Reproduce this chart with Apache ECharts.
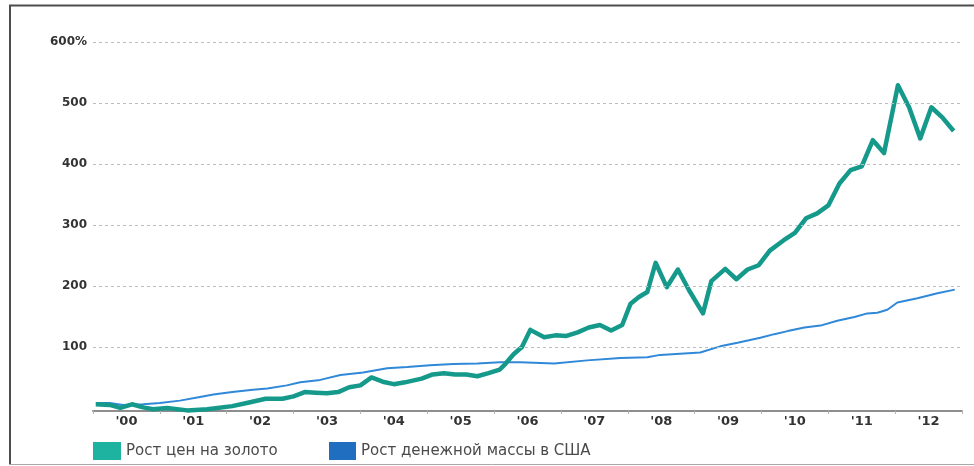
<!DOCTYPE html>
<html>
<head>
<meta charset="utf-8">
<script src="https://cdn.jsdelivr.net/npm/echarts@6/dist/echarts.min.js"></script>
<style>
  html, body { margin: 0; padding: 0; background: #fff; }
  #chart { width: 974px; height: 466px; }
</style>
</head>
<body>
<div id="chart"></div>
<script>
// Year labels shown under the axis (one band per year, 2000–2012)
const yearLabels = ["'00", "'01", "'02", "'03", "'04", "'05", "'06", "'07", "'08", "'09", "'10", "'11", "'12"];

// Horizontal reference levels, %
const gridLevels = [100, 200, 300, 400, 500, 600];

const seriesNames = ['Рост цен на золото', 'Рост денежной массы в США'];

// Gold price growth, %: position in months since January 2000 and value
const goldMonths = [0.5, 3, 4.9, 7, 9, 10.8, 13.3, 16.9, 20.5, 25, 28, 31, 34, 36, 38, 40, 42, 44, 46, 48,
  50, 52, 54, 56, 59, 61, 63, 65, 67, 69, 71, 73, 74, 75.5, 77, 78.5, 81, 83, 85, 87,
  89, 91, 93, 95, 96.5, 98, 99.5, 101, 103, 105, 107, 109.5, 111, 113.5, 115.5, 117.5, 119.5, 121.5, 124, 126,
  128, 130, 132, 134, 136, 138, 140, 142, 144.5, 146.5, 148.5, 150.5, 152.5, 154.5];
const goldGrowth = [6, 5, 0, 6, 1, -2, 0, -4, -2, 3, 9, 15, 15, 19, 26, 25, 24, 26, 34, 37,
  50, 43, 39, 42, 48, 55, 57, 55, 55, 52, 57, 63, 72, 88, 100, 128, 116, 119, 118, 124,
  132, 136, 127, 136, 171, 182, 190, 238, 198, 227, 193, 155, 208, 228, 211, 227, 234, 258, 275, 287,
  311, 319, 332, 368, 390, 396, 439, 418, 529, 493, 442, 493, 476, 454];

// US money supply growth, %: position in months since January 2000 and value
const moneyMonths = [0.5, 3, 5.4, 9, 12, 15.6, 19.2, 21.6, 25, 28.7, 31.3, 34.8, 37.2, 40.8, 44.4, 48.5,
  52.8, 56.4, 60.5, 64.7, 69, 73, 76.7, 82.8, 88.7, 94.7, 99.5, 101.8, 109, 112.6, 115.7,
  119.8, 122.3, 124.7, 127.7, 130.6, 133.6, 136.7, 139, 140.8, 142.6, 144.4, 148, 151.6, 154.7];
const moneyGrowth = [8, 8, 5, 6, 8, 12, 18, 22, 26, 30, 32, 37, 42, 46, 54, 58,
  65, 67, 70, 72, 73, 75, 75, 73, 78, 82, 83, 87, 91, 101, 107,
  115, 121, 126, 132, 135, 143, 149, 155, 156, 161, 173, 180, 188, 194];

const FONT = '"DejaVu Sans", Verdana, sans-serif';

const chart = echarts.init(document.getElementById('chart'), null, { renderer: 'canvas' });

const legendText = { color: '#4a4a4a', fontSize: 15, fontFamily: FONT };

chart.setOption({
  animation: false,
  backgroundColor: '#ffffff',
  grid: { left: 93, right: 12, top: 42, bottom: 55 },
  xAxis: [
    { type: 'value', min: 0, max: 156, show: false },
    {
      type: 'category',
      data: yearLabels,
      position: 'bottom',
      boundaryGap: true,
      axisLine: { lineStyle: { color: '#8e8e8e', width: 2 } },
      axisTick: { show: true, length: 3, lineStyle: { color: '#b5b5b5', width: 1 } },
      axisLabel: { color: '#333', fontWeight: 'bold', fontSize: 13, fontFamily: FONT, margin: 4 },
      splitLine: { show: false }
    }
  ],
  yAxis: {
    type: 'value',
    min: -5,
    max: 600,
    axisLine: { show: false },
    axisTick: { show: false },
    splitLine: { show: false },
    axisLabel: {
      formatter: v => (v <= 0 ? '' : (v === 600 ? '600%' : String(v))),
      color: '#333',
      fontWeight: 'bold',
      fontSize: 12,
      fontFamily: FONT,
      margin: 6
    }
  },
  legend: [
    {
      data: [seriesNames[0]], left: 93, top: 442, padding: 0, icon: 'rect', itemWidth: 28, itemHeight: 18,
      itemGap: 0, textStyle: legendText, selectedMode: false
    },
    {
      data: [seriesNames[1]], left: 329, top: 442, padding: 0, icon: 'rect', itemWidth: 27, itemHeight: 18,
      itemGap: 0, textStyle: legendText, selectedMode: false
    }
  ],
  series: [
    {
      name: seriesNames[1],
      type: 'line',
      xAxisIndex: 0,
      data: moneyMonths.map((m, i) => [m, moneyGrowth[i]]),
      showSymbol: false,
      z: 2,
      lineStyle: { color: '#2f88d8', width: 2 },
      itemStyle: { color: '#1f6ec0' },
      markLine: {
        silent: true,
        symbol: 'none',
        label: { show: false },
        lineStyle: { type: [3, 3], color: '#bdbdbd', width: 1 },
        data: gridLevels.map(v => ({ yAxis: v }))
      }
    },
    {
      name: seriesNames[0],
      type: 'line',
      xAxisIndex: 0,
      data: goldMonths.map((m, i) => [m, goldGrowth[i]]),
      showSymbol: false,
      z: 3,
      lineStyle: { color: '#15998b', width: 4.5, join: 'round' },
      itemStyle: { color: '#1db3a0' }
    }
  ],
  graphic: [
    { type: 'line', shape: { x1: 9, y1: 5.5, x2: 974, y2: 5.5 }, style: { stroke: '#4d4d4d', lineWidth: 2 } },
    { type: 'line', shape: { x1: 10, y1: 5, x2: 10, y2: 465 }, style: { stroke: '#4d4d4d', lineWidth: 2 } },
    { type: 'line', shape: { x1: 9, y1: 464.5, x2: 974, y2: 464.5 }, style: { stroke: '#a8a8a8', lineWidth: 1 } }
  ]
});
</script>
</body>
</html>
